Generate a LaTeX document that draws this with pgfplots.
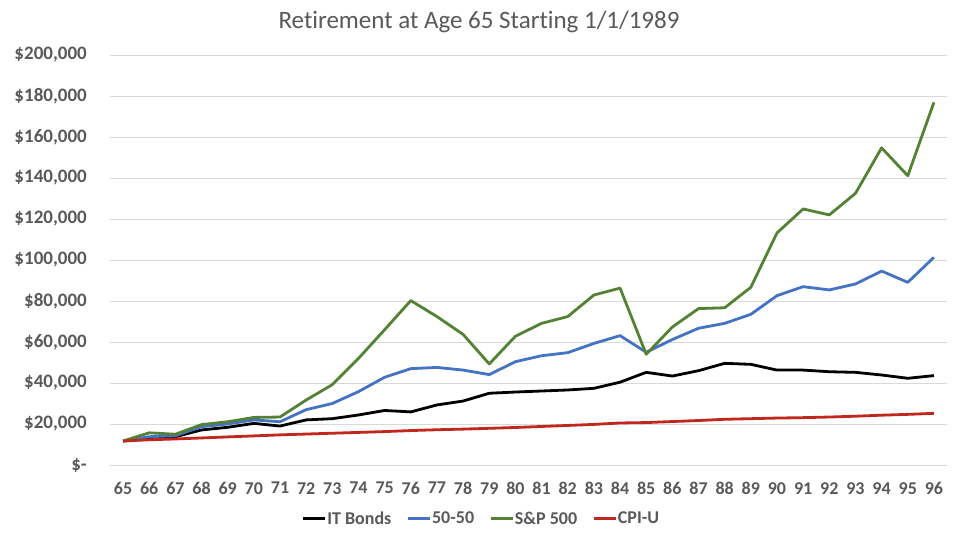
\documentclass[border=0pt]{standalone}
\usepackage{pgfplots}
\pgfplotsset{compat=1.18}
\usepackage{pgfplotstable}
\usepackage{fontspec}
\setmainfont{Carlito}[Ligatures=NoCommon]
\definecolor{gridc}{RGB}{217,217,217}
\definecolor{txt}{RGB}{89,89,89}
\definecolor{ttl}{RGB}{89,89,89}
\definecolor{sblue}{RGB}{68,114,196}
\definecolor{sgreen}{RGB}{84,130,53}
\definecolor{sred}{RGB}{192,40,30}
\pgfplotstableread{
age bonds fifty sp cpi
65 11700 11700 11700 11700
66 13000 13800 15700 12300
67 13800 14300 15000 12700
68 17100 18700 19700 13200
69 18400 20000 21100 13700
70 20300 22000 23200 14200
71 19000 21100 23400 14700
72 22000 27000 31700 15100
73 22600 30000 39200 15500
74 24400 35800 52000 15900
75 26600 42800 66000 16300
76 25900 47000 80200 16800
77 29300 47600 72400 17200
78 31200 46300 63700 17500
79 35000 44100 49300 17900
80 35600 50400 62800 18300
81 36100 53300 69100 18800
82 36600 54800 72400 19300
83 37400 59300 82900 19800
84 40400 63100 86300 20500
85 45200 55000 54000 20700
86 43400 61200 67300 21200
87 46000 66700 76300 21700
88 49600 69100 76700 22300
89 49100 73500 86700 22600
90 46300 82600 113200 22900
91 46300 87000 124900 23100
92 45500 85400 122000 23400
93 45200 88300 132500 23800
94 43900 94600 154700 24300
95 42300 89100 141100 24700
96 43600 101300 176900 25200
}\datatable
\begin{document}
\begin{tikzpicture}
\path[use as bounding box, fill=white] (0,0) rectangle (958pt,539pt);
\node[text=ttl, font=\fontsize{25}{28}\selectfont] at (479pt,517pt) {Retirement at Age 65 Starting 1/1/1989};
\begin{axis}[
  at={(110pt,74pt)}, anchor=south west,
  scale only axis, width=837pt, height=410pt,
  xmin=64.5, xmax=96.5, ymin=0, ymax=200000,
  xtick={65,...,96},
  ytick={0,20000,...,200000},
  scaled y ticks=false,
  yticklabels={{\$-\hspace{8pt}},{\$20,000},{\$40,000},{\$60,000},{\$80,000},{\$100,000},{\$120,000},{\$140,000},{\$160,000},{\$180,000},{\$200,000}},
  /pgf/number format/assume math mode=true,
  /pgf/number format/1000 sep={},
  ymajorgrids, grid style={gridc, line width=1pt},
  axis x line*=bottom, axis y line*=left,
  x axis line style={gridc, line width=1pt, -},
  y axis line style={draw=none},
  major tick length=0pt,
  tick label style={text=txt},
  yticklabel style={font=\fontsize{19}{22}\selectfont\bfseries, anchor=east, inner sep=0pt, xshift=-23pt},
  xticklabel style={font=\fontsize{18}{21}\selectfont\bfseries, anchor=north, inner sep=0pt, yshift=-17pt},
  legend columns=4,
  legend style={draw=none, fill=none, at={(axis description cs:0.443,-0.131)}, anchor=center,
    font=\fontsize{18}{21}\selectfont\bfseries, text=txt,
    nodes={inner sep=1pt},
    /tikz/every even column/.append style={column sep=14pt}},
  legend image code/.code={\draw[#1, line width=2.8pt] (0pt,0pt) -- (22pt,0pt);},
  every axis plot/.append style={line width=2.8pt, line join=round, no markers},
]
\addplot[black] table[x=age, y=bonds] {\datatable};
\addlegendentry{IT Bonds}
\addplot[sblue] table[x=age, y=fifty] {\datatable};
\addlegendentry{50-50}
\addplot[sgreen] table[x=age, y=sp] {\datatable};
\addlegendentry{S\&P 500}
\addplot[sred] table[x=age, y=cpi] {\datatable};
\addlegendentry{CPI-U}
\end{axis}
\end{tikzpicture}
\end{document}
